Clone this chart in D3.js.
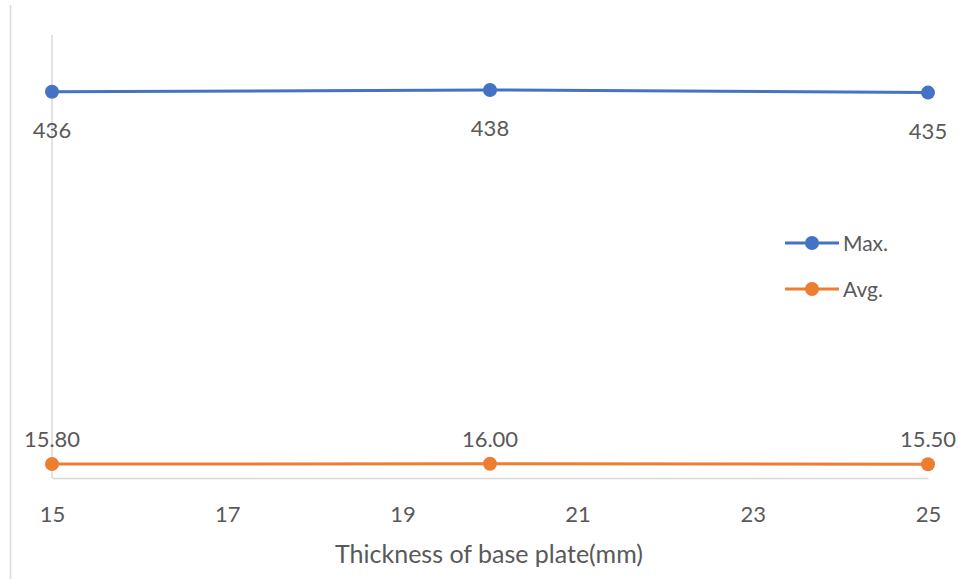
<!DOCTYPE html>
<html>
<head>
<meta charset="utf-8">
<script src="https://cdn.jsdelivr.net/npm/d3@7"></script>
<style>
  html, body { margin: 0; padding: 0; background: #fff; }
  svg { display: block; font-family: Lato, "Open Sans", sans-serif; }
</style>
</head>
<body>
<svg id="chart" width="958" height="579"></svg>
<script>
// Base plate thickness (mm) and measured values
const thickness = [15, 20, 25];
const maxValues = [436, 438, 435];
const avgValues = [15.80, 16.00, 15.50];
const xTicks = [15, 17, 19, 21, 23, 25];
const seriesNames = ["Max.", "Avg."];
const seriesColors = ["#4472C4", "#ED7D31"];

const svg = d3.select("#chart");
const textColor = "#595959";
const axisColor = "#d9d9d9";

const x = d3.scaleLinear().domain([15, 25]).range([52, 928]);
const y = d3.scaleLinear().domain([0, 500]).range([478, 35]);

// outer frame edge on the left
svg.append("line")
  .attr("x1", 10.5).attr("x2", 10.5)
  .attr("y1", 5).attr("y2", 579)
  .attr("stroke", axisColor).attr("stroke-width", 1.5);

// vertical axis line (no labels)
svg.append("line")
  .attr("x1", x(15)).attr("x2", x(15))
  .attr("y1", y(500)).attr("y2", y(0))
  .attr("stroke", axisColor).attr("stroke-width", 1.5);

// horizontal axis
const xAxis = d3.axisBottom(x).tickValues(xTicks).tickSize(0).tickPadding(28)
  .tickFormat(d3.format("d"));
const gx = svg.append("g").attr("transform", `translate(0,${y(0)})`).call(xAxis);
gx.select(".domain").attr("stroke", axisColor).attr("stroke-width", 1.5);
gx.selectAll("text").attr("fill", textColor).attr("font-size", 22).attr("dy", "0.71em")
  .attr("font-family", "Lato, sans-serif");

svg.append("text")
  .attr("x", 489).attr("y", 563)
  .attr("text-anchor", "middle")
  .attr("fill", textColor).attr("font-size", 25)
  .text("Thickness of base plate(mm)");

const series = [
  { name: seriesNames[0], color: seriesColors[0], values: maxValues, fmt: d3.format("d"), dy: 46 },
  { name: seriesNames[1], color: seriesColors[1], values: avgValues, fmt: d3.format(".2f"), dy: -17 }
];

const line = d3.line().x(d => x(d.t)).y(d => y(d.v));

series.forEach(s => {
  const pts = thickness.map((t, i) => ({ t, v: s.values[i] }));
  svg.append("path").datum(pts)
    .attr("d", line).attr("fill", "none")
    .attr("stroke", s.color).attr("stroke-width", 3);
  svg.selectAll(null).data(pts).enter().append("circle")
    .attr("cx", d => x(d.t)).attr("cy", d => y(d.v)).attr("r", 7)
    .attr("fill", s.color);
  svg.selectAll(null).data(pts).enter().append("text")
    .attr("x", d => x(d.t)).attr("y", d => y(d.v) + s.dy)
    .attr("text-anchor", "middle")
    .attr("fill", textColor).attr("font-size", 22)
    .text(d => s.fmt(d.v));
});

// legend
const legend = svg.append("g");
series.forEach((s, i) => {
  const ly = 243 + i * 46;
  legend.append("line").attr("x1", 785).attr("x2", 839).attr("y1", ly).attr("y2", ly)
    .attr("stroke", s.color).attr("stroke-width", 3);
  legend.append("circle").attr("cx", 812).attr("cy", ly).attr("r", 7).attr("fill", s.color);
  legend.append("text").attr("x", 843).attr("y", ly + 8)
    .attr("fill", textColor).attr("font-size", 21).text(s.name);
});
</script>
</body>
</html>
